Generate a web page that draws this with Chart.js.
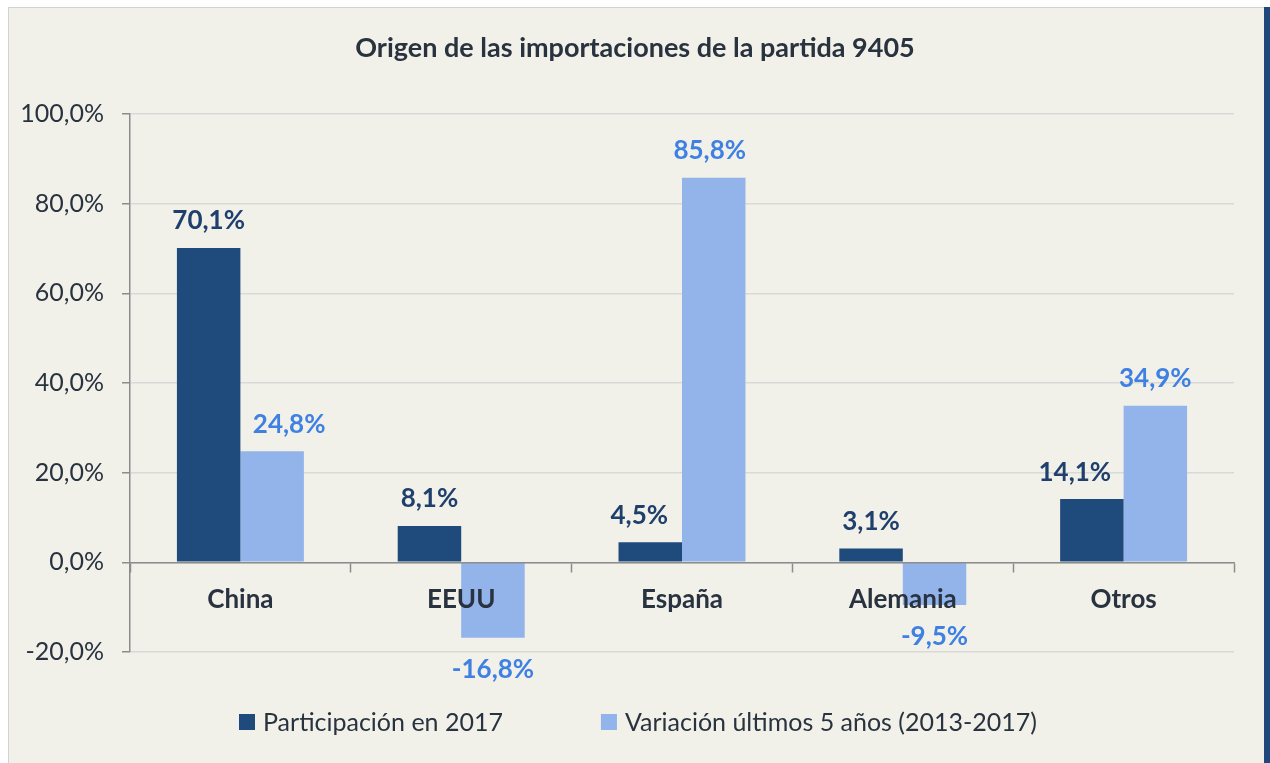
<!DOCTYPE html>
<html>
<head>
<meta charset="utf-8">
<script src="https://cdn.jsdelivr.net/npm/chart.js@4.4.1/dist/chart.umd.min.js"></script>
<style>
  html, body { margin: 0; padding: 0; background: #ffffff; }
  #wrap { position: relative; width: 1270px; height: 763px; overflow: hidden; }
  #frame { position: absolute; left: 8px; top: 7px; width: 1255px; height: 760px;
           background: #f1f0e9; border-left: 1px solid #d2d2d2; border-top: 1px solid #d2d2d2; }
  #edge { position: absolute; left: 1264px; top: 7px; width: 6px; height: 760px; background: #1f497d; }
  canvas { position: absolute; left: 0; top: 0; }
</style>
</head>
<body>
<div id="wrap">
  <div id="frame"></div>
  <div id="edge"></div>
  <canvas id="chart" width="1270" height="763"></canvas>
</div>
<script>
const categories = ['China', 'EEUU', 'España', 'Alemania', 'Otros'];
const participacion = [70.1, 8.1, 4.5, 3.1, 14.1];
const variacion = [24.8, -16.8, 85.8, -9.5, 34.9];
const yTicks = [-20, 0, 20, 40, 60, 80, 100];
const titleText = 'Origen de las importaciones de la partida 9405';

const darkBlue = '#1f4a7c';
const lightBlue = '#92b4ea';
const textColor = '#29333f';
const fontFamily = 'Lato, "Open Sans", sans-serif';

const fmt = v => v.toFixed(1).replace('.', ',') + '%';

// title centred on the whole frame, not just on the plot
const frameTitle = {
  id: 'frameTitle',
  afterDraw(chart) {
    const ctx = chart.ctx;
    ctx.save();
    ctx.font = 'bold 27px ' + fontFamily;
    ctx.fillStyle = textColor;
    ctx.textAlign = 'center';
    ctx.textBaseline = 'middle';
    ctx.fillText(titleText, 635, 48);
    ctx.restore();
  }
};

// value labels above / below each bar (a few nudged sideways like the original)
const barLabels = {
  id: 'barLabels',
  afterDraw(chart) {
    const ctx = chart.ctx;
    ctx.save();
    ctx.font = 'bold 26px ' + fontFamily;
    ctx.textAlign = 'center';
    ctx.textBaseline = 'middle';
    chart.data.datasets.forEach((ds, i) => {
      const meta = chart.getDatasetMeta(i);
      ctx.fillStyle = ds.labelColor;
      meta.data.forEach((bar, j) => {
        const v = ds.data[j];
        const y = v >= 0 ? bar.y - 27 : bar.y + 32;
        const dx = (ds.labelShift && ds.labelShift[j]) || 0;
        ctx.fillText(fmt(v), bar.x + dx, y);
      });
    });
    ctx.restore();
  }
};

// legend row at the bottom
const bottomLegend = {
  id: 'bottomLegend',
  afterDraw(chart) {
    const ctx = chart.ctx;
    ctx.save();
    ctx.font = '25px ' + fontFamily;
    ctx.textBaseline = 'middle';
    const box = 16, gapText = 8, gapItem = 98, cy = 722;
    let x = 239;
    chart.data.datasets.forEach(ds => {
      ctx.fillStyle = ds.backgroundColor;
      ctx.fillRect(x, cy - box / 2, box, box);
      ctx.fillStyle = textColor;
      ctx.fillText(ds.label, x + box + gapText, cy + 1);
      x += box + gapText + ctx.measureText(ds.label).width + gapItem;
    });
    ctx.restore();
  }
};

new Chart(document.getElementById('chart'), {
  type: 'bar',
  data: {
    labels: categories,
    datasets: [
      {
        label: 'Participación en 2017',
        data: participacion,
        backgroundColor: darkBlue,
        labelColor: '#1f3f6c',
        labelShift: [0, 0, -11, 0, -17],
        barPercentage: 1,
        categoryPercentage: 0.575
      },
      {
        label: 'Variación últimos 5 años (2013-2017)',
        data: variacion,
        backgroundColor: lightBlue,
        labelColor: '#3f80e3',
        labelShift: [17, 0, -4, 0, 0],
        barPercentage: 1,
        categoryPercentage: 0.575
      }
    ]
  },
  options: {
    responsive: false,
    animation: false,
    layout: {
      padding: { left: 8, right: 36, top: 114, bottom: 111 }
    },
    plugins: {
      legend: { display: false },
      tooltip: { enabled: false },
      title: { display: false }
    },
    scales: {
      x: {
        position: { y: 0 },
        grid: {
          offset: true,
          drawOnChartArea: false,
          drawTicks: true,
          tickLength: 9,
          tickColor: '#8c8c8c',
          tickWidth: 1.5,
          z: 1
        },
        border: { color: '#8c8c8c', width: 1.5, z: 1 },
        ticks: {
          color: textColor,
          padding: 13,
          z: 1,
          font: { family: fontFamily, size: 26, weight: 'bold' }
        }
      },
      y: {
        min: -20,
        max: 100,
        afterFit: s => { s.width = 122; },
        afterBuildTicks: s => { s.ticks = yTicks.map(v => ({ value: v })); },
        grid: {
          color: '#d9d9d9',
          lineWidth: 1.5,
          tickColor: '#8c8c8c',
          tickLength: 8,
          tickWidth: 1.5
        },
        border: { color: '#8c8c8c', width: 1.5 },
        ticks: {
          color: textColor,
          padding: 18,
          font: { family: fontFamily, size: 25 },
          callback: v => fmt(v)
        }
      }
    }
  },
  plugins: [frameTitle, barLabels, bottomLegend]
});
</script>
</body>
</html>
